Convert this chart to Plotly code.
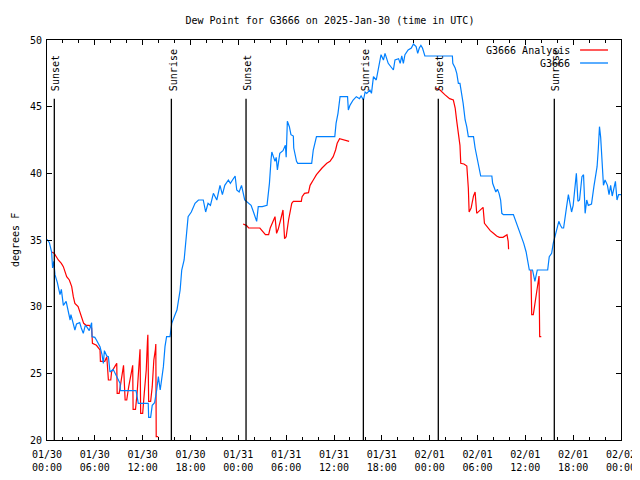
import plotly.graph_objects as go
from datetime import datetime, timedelta

BASE = datetime(2025, 1, 30, 0, 0)

# ---- Data (hours since 2025-01-30 00:00 UTC, degrees F) ----
obs_hours = [0.0, 0.3, 0.58, 0.7, 0.85, 1.0, 1.3, 1.63, 1.8, 2.05, 2.4, 2.67, 2.9, 3.0, 3.2, 3.5, 3.7, 4.1,
             4.3, 4.55, 4.8, 4.97, 5.3, 5.6, 5.65, 6.0, 6.2, 6.65, 6.9, 7.07, 7.2, 7.5, 7.7, 7.9, 8.3, 8.75,
             9.16, 9.2, 11.17, 11.45, 12.7, 12.75, 13.0, 13.2, 13.5, 13.76, 13.97, 14.2, 14.6, 14.8, 15.0,
             15.43, 15.65, 16.06, 16.3, 16.7, 16.9, 17.2, 17.44, 17.6, 17.7, 18.1, 18.57, 19.0, 19.6, 19.9,
             20.2, 20.5, 20.87, 21.3, 21.7, 22.0, 22.3, 22.75, 23.0, 23.6, 23.8, 24.1, 24.4, 24.8, 25.26,
             25.6, 25.9, 26.3, 26.5, 27.0, 27.6, 27.9, 28.1, 28.2, 28.6, 28.75, 28.9, 29.2, 29.6, 29.9, 30.0,
             30.15, 30.4, 30.6, 30.9, 30.95, 31.3, 31.45, 33.2, 33.4, 33.8, 36.1, 36.26, 36.5, 36.76, 37.7,
             37.8, 38.0, 38.4, 38.8, 39.2, 39.4, 39.7, 39.9, 40.1, 40.5, 40.7, 40.95, 41.3, 41.6, 41.9, 42.2,
             42.4, 42.8, 43.2, 43.45, 43.65, 44.1, 44.3, 44.5, 44.7, 44.9, 45.3, 45.7, 45.96, 46.3, 46.5,
             46.7, 46.9, 47.1, 47.4, 50.85, 50.9, 51.2, 51.4, 51.6, 51.8, 52.0, 52.2, 52.45, 52.65, 52.85,
             53.5, 53.7, 54.1, 54.3, 54.4, 55.8, 55.9, 56.3, 56.5, 56.7, 56.9, 57.05, 57.25, 58.5, 58.9,
             59.35, 59.8, 60.1, 60.3, 60.5, 60.9, 61.2, 61.5, 62.8, 63.0, 63.3, 63.5, 63.9, 64.2, 64.4, 64.6,
             64.8, 64.98, 65.2, 65.4, 65.6, 65.8, 66.0, 66.4, 66.6, 66.8, 67.1, 67.3, 67.5, 67.7, 67.9, 68.3,
             68.6, 68.8, 69.0, 69.15, 69.3, 69.45, 69.6, 69.8, 70.0, 70.3, 70.5, 70.7, 70.9, 71.1, 71.3,
             71.5, 71.7, 72.0]
obs_dewpt = [35.05, 34.8, 34.1, 32.9, 33.4, 32.4, 31.8, 30.9, 31.3, 30.1, 30.4, 29.75, 29.0, 29.4, 28.9, 28.25,
             28.7, 28.8, 28.4, 28.0, 28.6, 28.5, 28.2, 28.8, 27.75, 27.7, 27.5, 27.0, 26.4, 25.75, 26.7, 26.3,
             26.25, 25.1, 25.3, 24.75, 24.25, 23.7, 23.7, 22.75, 22.75, 21.7, 21.7, 22.6, 22.8, 23.75, 24.75,
             23.75, 25.5, 27.0, 27.75, 27.75, 28.75, 29.4, 29.75, 31.25, 32.75, 33.5, 35.0, 35.75, 36.75,
             37.1, 37.75, 38.0, 38.0, 37.1, 37.75, 37.6, 38.5, 38.0, 39.1, 38.4, 39.1, 39.5, 39.25, 39.8,
             38.75, 38.6, 39.1, 38.0, 37.75, 37.6, 37.1, 36.4, 37.5, 37.5, 37.6, 39.25, 41.0, 41.6, 40.9,
             41.2, 40.25, 41.5, 41.7, 42.1, 41.2, 43.9, 43.5, 42.9, 42.8, 41.9, 40.9, 40.75, 40.75, 41.75,
             42.75, 42.75, 43.75, 44.5, 45.75, 45.75, 44.75, 45.1, 45.5, 45.75, 45.6, 45.8, 45.5, 46.1, 46.0,
             46.25, 46.0, 47.25, 47.0, 48.0, 48.9, 48.5, 49.0, 48.25, 47.9, 47.75, 48.5, 48.6, 48.25, 48.8,
             48.25, 48.9, 49.25, 49.4, 49.7, 49.5, 49.0, 49.4, 49.6, 49.4, 48.8, 48.8, 48.25, 47.9, 47.5,
             46.75, 46.75, 46.1, 45.25, 44.0, 43.5, 42.75, 42.75, 41.9, 40.75, 40.25, 39.8, 39.8, 39.25,
             38.6, 38.8, 38.5, 38.0, 37.0, 36.9, 36.9, 36.25, 35.6, 34.75, 34.1, 33.5, 32.75, 32.75, 31.9,
             32.75, 32.75, 33.75, 34.0, 34.75, 35.6, 36.4, 36.1, 35.9, 35.9, 36.9, 37.6, 38.4, 37.6, 37.1,
             37.6, 40.0, 37.9, 38.0, 39.75, 39.9, 37.0, 38.0, 37.6, 37.7, 39.0, 39.8, 40.5, 41.8, 43.5, 42.7,
             40.75, 39.1, 39.5, 39.1, 38.4, 39.1, 38.3, 39.0, 39.4, 38.0, 38.4, 38.4]

ana_hours = [0.58, 0.9, 1.42, 1.8, 2.05, 2.47, 2.8, 3.1, 3.3, 3.5, 3.9, 4.1, 4.35, 4.6, 4.9, 5.3, 5.6, 5.7,
             6.2, 6.65, 6.7, 7.25, 7.5, 7.7, 8.0, 8.1, 8.5, 8.75, 8.8, 9.05, 9.25, 9.6, 9.8, 10.0, 10.25,
             10.5, 10.75, 10.8, 11.1, 11.3, 11.5, 11.67, 11.75, 12.0, 12.2, 12.45, 12.6, 12.65, 12.75, 13.0,
             13.2, 13.4, 13.6, 13.65, 13.7, 13.95, None,
             24.6, 25.0, 25.3, 26.7, 27.4, 27.8, 28.0, 28.6, 28.8, 29.0, 29.3, 29.6, 29.8, 30.0, 30.3, 30.5,
             30.7, 30.9, 31.9, 32.0, 32.3, 32.8, 33.0, 33.4, 33.8, 34.5, 35.1, 35.5, 35.9, 36.2, 36.4, 36.7,
             37.2, 37.9, None,
             48.75, 49.3, 49.9, 50.5, 50.97, 51.2, 51.4, 51.55, 51.7, 51.8, 51.9, 52.3, 52.66, 52.85, 52.95,
             53.2, 53.5, 53.7, 53.9, 54.3, 54.7, 54.87, 55.2, 55.6, 56.0, 56.4, 56.75, 57.2, 57.7, 57.85,
             57.9, None,
             60.7, 60.8, 61.0, 61.15, 61.35, 61.5, 61.65, 61.72, 61.8, 62.0]
ana_dewpt = [34.1, 34.0, 33.5, 33.25, 33.0, 32.25, 32.0, 31.5, 30.75, 30.25, 30.0, 29.6, 29.25, 28.75, 28.6,
             28.6, 28.4, 27.25, 27.1, 26.75, 25.9, 25.9, 26.25, 24.5, 24.5, 25.1, 25.5, 25.75, 23.5, 23.5,
             24.25, 25.6, 23.0, 23.0, 24.0, 24.75, 25.6, 22.3, 22.3, 23.5, 25.75, 26.8, 22.0, 22.0, 23.5,
             25.25, 27.4, 27.9, 22.9, 22.9, 24.0, 26.0, 26.8, 27.2, 20.25, 20.25, None,
             36.2, 36.1, 35.9, 35.9, 35.4, 35.4, 35.9, 36.75, 35.5, 35.8, 36.5, 37.25, 35.1, 35.25, 36.5,
             37.25, 37.75, 37.9, 37.9, 38.25, 38.5, 38.55, 39.1, 39.5, 39.9, 40.4, 40.75, 40.9, 41.25, 41.75,
             42.25, 42.6, 42.5, 42.4, None,
             46.4, 46.25, 45.9, 45.6, 45.5, 44.9, 43.9, 43.2, 42.5, 42.1, 40.75, 40.7, 40.55, 38.9, 37.1,
             37.4, 38.3, 38.6, 37.0, 37.25, 37.45, 36.25, 36.0, 35.7, 35.5, 35.3, 35.2, 35.2, 35.4, 34.9,
             34.3, None,
             32.75, 29.4, 29.4, 30.0, 31.0, 31.75, 32.1, 32.3, 27.75, 27.75]

sun_labels = ["Sunset", "Sunrise", "Sunset", "Sunrise", "Sunset", "Sunrise"]
sun_times = ["2025-01-30 00:55", "2025-01-30 15:36", "2025-01-31 00:58",
             "2025-01-31 15:41", "2025-02-01 01:05", "2025-02-01 15:38"]

series_names = ["G3666 Analysis", "G3666"]
series_colors = ["#ff0000", "#0080ff"]

title_text = "Dew Point for G3666 on 2025-Jan-30 (time in UTC)"
y_title = "degrees F"
x_range = ["2025-01-30 00:00", "2025-02-02 00:00"]
y_range = [20, 50]


def to_time(hours):
    return [None if h is None else BASE + timedelta(hours=h) for h in hours]


FONT = "DejaVu Sans Mono"
fig = go.Figure()
fig.add_trace(go.Scatter(x=to_time(ana_hours), y=ana_dewpt, mode="lines", name=series_names[0],
                         line=dict(color=series_colors[0], width=1.2), connectgaps=False))
fig.add_trace(go.Scatter(x=to_time(obs_hours), y=obs_dewpt, mode="lines", name=series_names[1],
                         line=dict(color=series_colors[1], width=1.2)))

# Sunrise / sunset markers
for lab, t in zip(sun_labels, sun_times):
    fig.add_shape(type="line", xref="x", yref="y", x0=t, x1=t, y0=y_range[0], y1=45.6,
                  line=dict(color="black", width=1.3))
    fig.add_annotation(x=t, y=46.0, xref="x", yref="y", text=lab, textangle=-90, showarrow=False,
                       xanchor="center", yanchor="bottom", xshift=1.5,
                       font=dict(family=FONT, size=10, color="black"))

# Manual legend (text right-aligned, sample line to the right)
leg_y = [0.975, 0.9425]
for name, col, yy in zip(series_names, series_colors, leg_y):
    fig.add_annotation(x=0.9148, y=yy, xref="paper", yref="paper", text=name, showarrow=False,
                       xanchor="right", yanchor="middle", font=dict(family=FONT, size=10, color="black"))
    fig.add_shape(type="line", xref="paper", yref="paper", x0=0.9287, x1=0.9774, y0=yy, y1=yy,
                  line=dict(color=col, width=1.3))

# Y axis title (kept just inside the figure's left edge)
fig.add_annotation(x=-0.0557, y=0.5, xref="paper", yref="paper", text=y_title, textangle=-90,
                   showarrow=False, xanchor="center", yanchor="middle",
                   font=dict(family=FONT, size=10, color="black"))

# The page body adds an 8px offset, so margins are set to land the plot box at 47..621 x 40..440
fig.update_layout(
    width=640, height=480,
    margin=dict(l=39, r=27, t=32, b=48, pad=0),
    paper_bgcolor="white", plot_bgcolor="white",
    showlegend=False,
    font=dict(family=FONT, size=10, color="black"),
    title=dict(text=title_text, x=0.503, xanchor="center", y=0.975, yanchor="middle",
               font=dict(family=FONT, size=10, color="black")),
)
fig.update_xaxes(type="date", range=x_range, dtick=6 * 3600 * 1000, tick0="2025-01-30 00:00",
                 tickformat="%m/%d<br>%H:%M", showgrid=False, zeroline=False, automargin=False,
                 showline=True, linecolor="black", linewidth=1, mirror="ticks",
                 ticks="inside", ticklen=5, tickcolor="black", tickwidth=1, ticklabelstandoff=5,
                 minor=dict(dtick=2 * 3600 * 1000, ticks="inside", ticklen=3, tickcolor="black",
                            showgrid=False),
                 tickfont=dict(family=FONT, size=10, color="black"))
fig.update_yaxes(range=y_range, dtick=5, showgrid=False, zeroline=False, automargin=False,
                 showline=True, linecolor="black", linewidth=1, mirror="ticks",
                 ticks="inside", ticklen=5, tickcolor="black", tickwidth=1, ticklabelstandoff=2,
                 tickfont=dict(family=FONT, size=10, color="black"))

fig.write_html("out.html")
